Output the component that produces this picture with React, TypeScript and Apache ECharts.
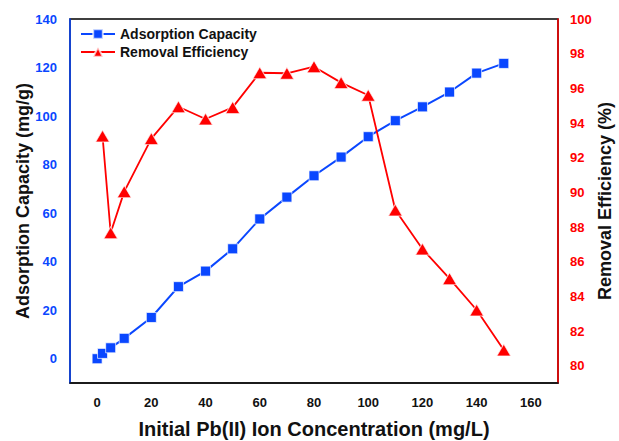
import React, { useEffect, useRef } from "react";
import * as echarts from "echarts";

const capacityX = [0, 2, 5, 10, 20, 30, 40, 50, 60, 70, 80, 90, 100, 110, 120, 130, 140, 150];
const capacityY = [0, 2.2, 4.5, 8.4, 17, 29.7, 36.1, 45.3, 57.6, 66.6, 75.4, 83.1, 91.5, 98.1, 103.8, 109.9, 117.7, 121.7];
const efficiencyX = [2, 5, 10, 20, 30, 40, 50, 60, 70, 80, 90, 100, 110, 120, 130, 140, 150];
const efficiencyY = [93.25, 87.67, 90.04, 93.1, 94.94, 94.23, 94.9, 96.9, 96.87, 97.25, 96.33, 95.6, 88.98, 86.73, 85.02, 83.21, 80.9];
const xTicks = [0, 20, 40, 60, 80, 100, 120, 140, 160];
const leftTicks = [0, 20, 40, 60, 80, 100, 120, 140];
const rightTicks = [80, 82, 84, 86, 88, 90, 92, 94, 96, 98, 100];

const BLUE = "#0a47ff";
const RED = "#ff0000";
const FONT = "Liberation Sans, Arial, sans-serif";

export default function App() {
  const ref = useRef<HTMLDivElement>(null);
  useEffect(() => {
    if (!ref.current) return;
    const chart = echarts.init(ref.current, undefined, { renderer: "svg" });
    chart.setOption({
      animation: false,
      backgroundColor: "#ffffff",
      textStyle: { fontFamily: FONT },
      grid: {
        left: 70, right: 61, top: 19, bottom: 58,
        outerBoundsMode: "none", containLabel: false,
        show: true, borderColor: "#000", borderWidth: 1.5,
      },
      legend: {
        orient: "vertical",
        left: 80,
        top: 27,
        padding: 0,
        itemWidth: 34,
        itemHeight: 12,
        itemGap: 4,
        textStyle: { fontFamily: FONT, fontSize: 14, fontWeight: "bold", color: "#111" },
        data: ["Adsorption Capacity", "Removal Efficiency"],
      },
      xAxis: {
        type: "value",
        min: -10,
        max: 170,
        name: "Initial Pb(II) Ion Concentration (mg/L)",
        nameLocation: "middle",
        nameGap: 36,
        nameMoveOverlap: false,
        nameTextStyle: { fontFamily: FONT, fontSize: 20, fontWeight: "bold", color: "#111" },
        axisLine: { show: true, onZero: false, lineStyle: { color: "#111", width: 1.5 } },
        axisTick: { show: false, customValues: xTicks },
        splitLine: { show: false },
        axisLabel: { customValues: xTicks, margin: 13, fontSize: 13, fontWeight: "bold", color: "#111", fontFamily: FONT },
      },
      yAxis: [
        {
          type: "value",
          min: -10,
          max: 140,
          position: "left",
          name: "Adsorption Capacity (mg/g)",
          nameLocation: "middle",
          nameGap: 38,
          nameMoveOverlap: false,
          nameTextStyle: { fontFamily: FONT, fontSize: 18, fontWeight: "bold", color: "#111" },
          axisLine: { show: true, onZero: false, lineStyle: { color: BLUE, width: 1.5 } },
          axisTick: { show: false, customValues: leftTicks },
          splitLine: { show: false },
          axisLabel: { customValues: leftTicks, margin: 13, fontSize: 13, fontWeight: "bold", color: BLUE, fontFamily: FONT },
        },
        {
          type: "value",
          min: 79,
          max: 100,
          position: "right",
          name: "Removal Efficiency (%)",
          nameLocation: "middle",
          nameGap: 38,
          nameMoveOverlap: false,
          nameTextStyle: { fontFamily: FONT, fontSize: 18, fontWeight: "bold", color: "#111" },
          axisLine: { show: true, onZero: false, lineStyle: { color: RED, width: 1.5 } },
          axisTick: { show: false, customValues: rightTicks },
          splitLine: { show: false },
          axisLabel: { customValues: rightTicks, margin: 12, fontSize: 13, fontWeight: "bold", color: RED, fontFamily: FONT },
        },
      ],
      series: [
        {
          name: "Adsorption Capacity",
          type: "line",
          yAxisIndex: 0,
          data: capacityX.map((x, i) => [x, capacityY[i]]),
          symbol: "rect",
          symbolSize: 10,
          lineStyle: { color: BLUE, width: 2 },
          itemStyle: { color: BLUE, borderColor: "rgba(255,255,255,0.7)", borderWidth: 1 },
        },
        {
          name: "Removal Efficiency",
          type: "line",
          yAxisIndex: 1,
          data: efficiencyX.map((x, i) => [x, efficiencyY[i]]),
          symbol: "triangle",
          symbolSize: [14, 12],
          lineStyle: { color: RED, width: 1.8 },
          itemStyle: { color: RED, borderColor: "rgba(255,255,255,0.7)", borderWidth: 1 },
        },
      ],
    });
    return () => chart.dispose();
  }, []);
  return <div ref={ref} style={{ position: "fixed", left: 0, top: 0, width: 619, height: 441 }} />;
}
